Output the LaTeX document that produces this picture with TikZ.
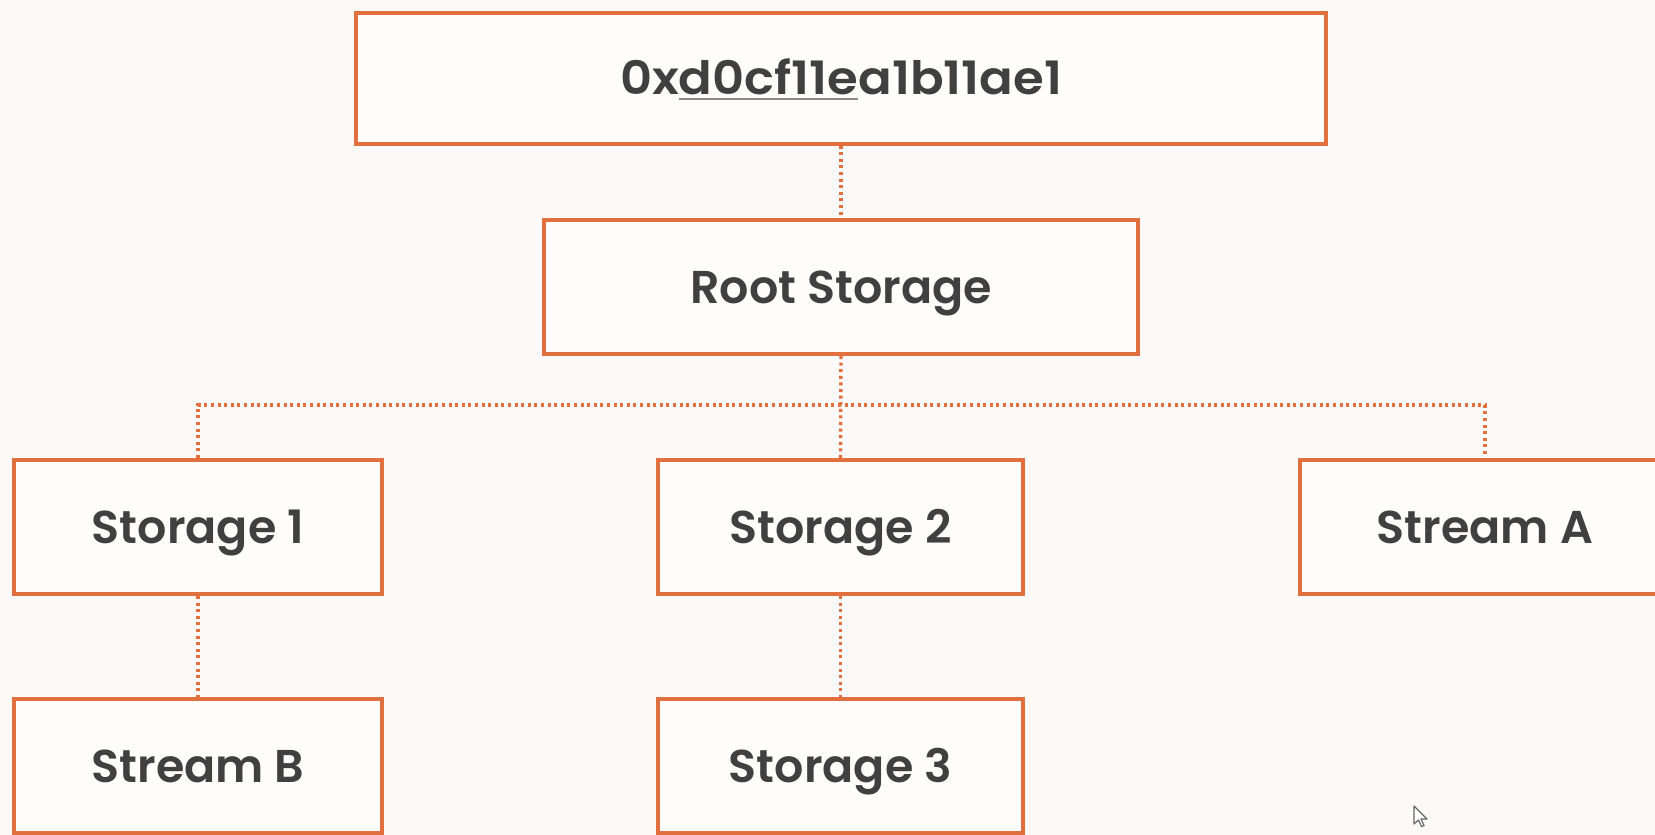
\documentclass[tikz,border=0pt]{standalone}
\usepackage{fontspec}
\setmainfont{Poppins}[UprightFont={* SemiBold}]
\definecolor{bgcol}{HTML}{FBFAF8}
\definecolor{boxfill}{HTML}{FEFDFB}
\definecolor{edge}{HTML}{E2703F}
\definecolor{txt}{HTML}{404040}
\definecolor{ulgray}{HTML}{8A8A8A}
\newcommand\myul[1]{\begingroup\setbox0\hbox{#1}\rlap{\color{ulgray}\rule[-0.14em]{\wd0}{0.045em}}\box0\endgroup}
\tikzset{
  blk/.style={draw=edge, line width=4pt, fill=boxfill, text=txt, inner sep=0pt,
    font=\fontsize{46}{50}\selectfont, minimum height=134pt, text height=32pt, text depth=0pt},
  conn/.style={draw=edge, line width=3.4pt, dash pattern=on 3pt off 3.6pt}
}
\begin{document}
\begin{tikzpicture}[x=1pt,y=-1pt]
\fill[bgcol] (0,0) rectangle (1655,835);
\useasboundingbox (0,0) rectangle (1655,835);
\begin{scope}
\clip (0,0) rectangle (1655,835);
\node[blk, minimum width=970pt, minimum height=131pt] (top) at (841,78) {\scalebox{1.08}[1]{0x\myul{d0cf11e}a1b11ae1}};
\node[blk, minimum width=594pt] (root) at (841,287) {Root Storage};
\node[blk, minimum width=368pt] (s1) at (198,527) {Storage 1};
\node[blk, minimum width=365pt] (s2) at (840.5,527) {Storage 2};
\node[blk, minimum width=370pt] (sa) at (1485,527) {Stream A};
\node[blk, minimum width=368pt] (sb) at (198,766) {Stream B};
\node[blk, minimum width=365pt] (s3) at (840.5,766) {Storage 3};
\coordinate (j) at (841,405);
\draw[conn] (top.south) -- (root.north);
\draw[conn] (root.south) -- (s2.north);
\draw[conn] (s1.north) |- (j) -| (sa.north);
\draw[conn] (s1.south) -- (sb.north);
\draw[conn] (s2.south) -- (s3.north);
\draw[gray!80!black, fill=white, line width=1.2pt, line join=round]
  (1414,806) -- (1414,824) -- (1418.5,820) -- (1421.5,826.5) -- (1424,825.5) -- (1421,819) -- (1427,819) -- cycle;
\end{scope}
\end{tikzpicture}
\end{document}
